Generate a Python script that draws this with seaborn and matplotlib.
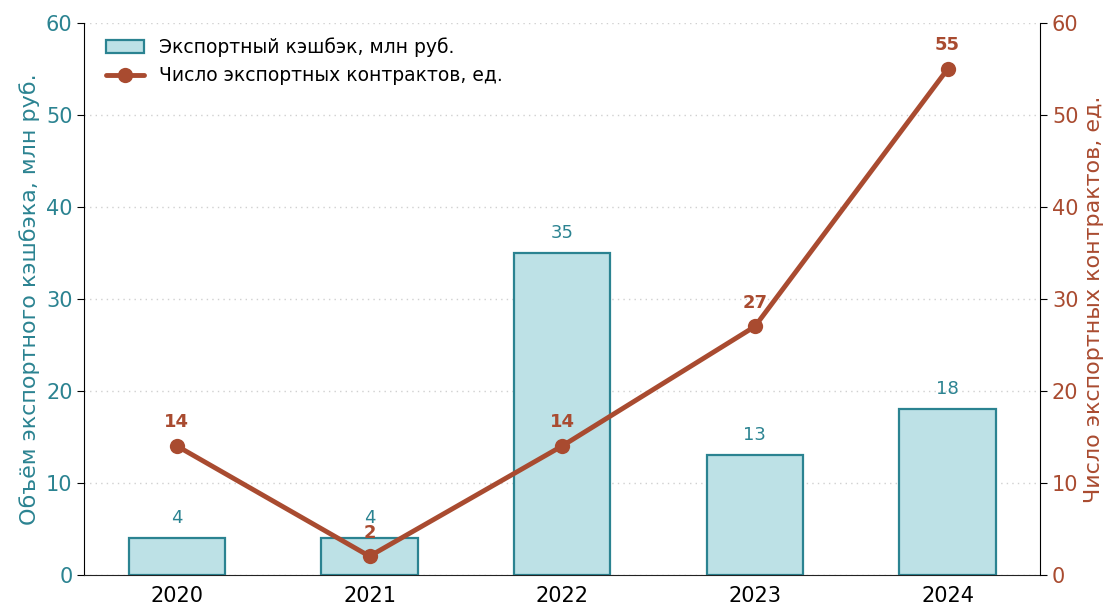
import numpy as np
import pandas as pd
import matplotlib
matplotlib.use("Agg")
import matplotlib.pyplot as plt
import seaborn as sns

years = ["2020", "2021", "2022", "2023", "2024"]
cashback = [4, 4, 35, 13, 18]
contracts = [14, 2, 14, 27, 55]

teal = "#2b8391"
bar_fill = "#bde1e6"
rust = "#a94b30"

sns.set_style("white")
plt.rcParams["font.family"] = ["DejaVu Sans"]

df = pd.DataFrame({"year": years, "cashback": cashback, "contracts": contracts})

fig, ax = plt.subplots(figsize=(11.1, 6.1), dpi=100)
fig.subplots_adjust(left=0.076, right=0.937, top=0.962, bottom=0.058)

sns.barplot(data=df, x="year", y="cashback", ax=ax, color=bar_fill,
            edgecolor=teal, linewidth=1.6, width=0.5, saturation=1,
            label="Экспортный кэшбэк, млн руб.")
ax.set_ylim(0, 60)
ax.set_xlim(-0.48, 4.48)
ax.set_xlabel("")
ax.set_ylabel("Объём экспортного кэшбэка, млн руб.", color=teal, fontsize=16)
ax.tick_params(axis="y", colors="black", labelcolor=teal, labelsize=15, length=5)
ax.tick_params(axis="x", labelsize=15, length=5, labelcolor="black")
ax.yaxis.grid(True, linestyle=(0, (1, 3)), color="#d0d0d0", linewidth=1)
ax.set_axisbelow(True)
for s in ["top", "right"]:
    ax.spines[s].set_visible(False)
ax.spines["left"].set_color("black")
ax.spines["bottom"].set_color("#222222")

for i, v in enumerate(cashback):
    ax.text(i, v + 1.2, str(v), ha="center", va="bottom", color=teal, fontsize=13)

ax2 = ax.twinx()
sns.lineplot(x=np.arange(len(years)), y=contracts, ax=ax2, color=rust,
             linewidth=3.5, marker="o", markersize=11, markeredgewidth=0,
             label="Число экспортных контрактов, ед.")
ax2.set_ylim(0, 60)
ax2.set_ylabel("Число экспортных контрактов, ед.", color=rust, fontsize=16)
ax2.tick_params(axis="y", colors="black", labelcolor=rust, labelsize=15, length=5)
for s in ["top", "left", "bottom"]:
    ax2.spines[s].set_visible(False)
ax2.spines["right"].set_color("black")

for i, v in enumerate(contracts):
    ax2.text(i, v + 1.6, str(v), ha="center", va="bottom", color=rust,
             fontsize=13, fontweight="bold")

h1, l1 = ax.get_legend_handles_labels()
h2, l2 = ax2.get_legend_handles_labels()
ax2.get_legend().remove()
leg = ax.legend(h1 + h2, l1 + l2, loc="upper left", frameon=False, fontsize=13.5,
                handlelength=2.0, bbox_to_anchor=(0.005, 1.005))
for t in leg.get_texts():
    t.set_color("black")

fig.savefig("out.png", dpi=100)
